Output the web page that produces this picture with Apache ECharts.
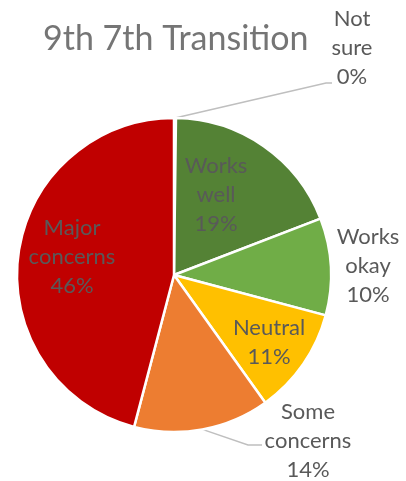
<!DOCTYPE html>
<html>
<head>
<meta charset="utf-8">
<title>9th 7th Transition</title>
<script src="https://cdn.jsdelivr.net/npm/echarts@6/dist/echarts.min.js"></script>
<style>
  html, body { margin: 0; padding: 0; background: #fff; }
  #chart { width: 406px; height: 481px; }
</style>
</head>
<body>
<div id="chart"></div>
<script>
// data (clockwise from 12 o'clock)
var categories = ['Not sure', 'Works well', 'Works okay', 'Neutral', 'Some concerns', 'Major concerns'];
var shares = [0.2, 19, 10, 11, 14, 46];
var labelNames = ['Not\nsure', 'Works\nwell', 'Works\nokay', 'Neutral', 'Some\nconcerns', 'Major\nconcerns'];
var sliceColors = ['#A5A5A5', '#548235', '#70AD47', '#FFC000', '#ED7D31', '#C00000'];

// where each label sits (centre of the text block), and label line bends
var labelPos = {
  'Not sure': [352, 48],
  'Works well': [216, 195],
  'Works okay': [368, 266],
  'Neutral': [269, 342],
  'Some concerns': [308, 441],
  'Major concerns': [72, 257]
};
var lineBends = {
  'Not sure': [[326, 83], [332, 83]],
  'Some concerns': [[248, 445], [262, 445]]
};

var chart = echarts.init(document.getElementById('chart'));

var pieData = categories.map(function (name, i) {
  var hasLine = !!lineBends[name];
  return {
    name: name,
    value: shares[i],
    itemStyle: { color: sliceColors[i] },
    labelLine: { show: hasLine }
  };
});

var option = {
  animation: false,
  textStyle: { fontFamily: 'Lato' },
  title: {
    text: '9th 7th Transition',
    left: 38,
    top: 17,
    textStyle: { fontFamily: 'Lato', fontSize: 34, fontWeight: 'normal', color: '#757575' }
  },
  series: [{
    type: 'pie',
    center: [174, 275],
    radius: 157,
    startAngle: 90,
    clockwise: true,
    avoidLabelOverlap: false,
    itemStyle: { borderColor: '#fff', borderWidth: 2.5 },
    label: {
      show: true,
      position: 'outside',
      fontFamily: 'Lato',
      fontSize: 22,
      lineHeight: 29,
      color: '#595959',
      formatter: function (p) {
        return labelNames[p.dataIndex] + '\n' + Math.round(p.percent) + '%';
      }
    },
    labelLine: {
      lineStyle: { color: '#BFBFBF', width: 1.5 },
      length: 10,
      length2: 10
    },
    labelLayout: function (p) {
      var name = categories[p.dataIndex];
      var pos = labelPos[name];
      var out = { x: pos[0], y: pos[1], align: 'center', verticalAlign: 'middle' };
      if (lineBends[name] && p.labelLinePoints) {
        out.labelLinePoints = [p.labelLinePoints[0]].concat(lineBends[name]);
      }
      return out;
    },
    data: pieData
  }]
};

chart.setOption(option);
</script>
</body>
</html>
